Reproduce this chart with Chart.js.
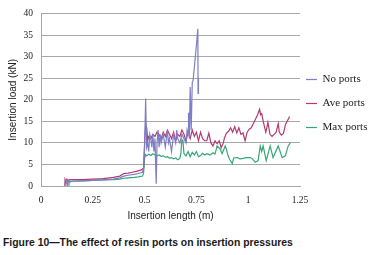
<!DOCTYPE html>
<html>
<head>
<meta charset="utf-8">
<script src="https://cdn.jsdelivr.net/npm/chart.js@4/dist/chart.umd.min.js"></script>
<style>
  body { margin: 0; background: #fff; width: 369px; height: 255px; overflow: hidden; position: relative; }
  #wrap { position: absolute; left: 0; top: 0; width: 369px; height: 222px; }
  #caption { position: absolute; left: 3px; top: 237px; font: bold 10.4px "Liberation Sans", Arial, sans-serif; color: #1a1a1a; white-space: nowrap; }
</style>
</head>
<body>
<div id="wrap"><canvas id="insertionChart"></canvas></div>
<div id="caption">Figure 10—The effect of resin ports on insertion pressures</div>
<script>
var seriesNames = ["No ports", "Ave ports", "Max ports"];
var xTicks = [0, 0.25, 0.5, 0.75, 1, 1.25];

var noPortsX = [0.12, 0.121, 0.127, 0.128, 0.133, 0.14, 0.2, 0.25, 0.3, 0.35, 0.38, 0.40, 0.42, 0.45, 0.47, 0.49, 0.495, 0.50, 0.505, 0.51, 0.515, 0.52, 0.525, 0.53, 0.535, 0.54, 0.545, 0.55, 0.556, 0.56, 0.565, 0.57, 0.575, 0.58, 0.59, 0.60, 0.61, 0.615, 0.62, 0.63, 0.64, 0.65, 0.655, 0.66, 0.67, 0.68, 0.69, 0.70, 0.705, 0.71, 0.712, 0.716, 0.72, 0.725, 0.73, 0.734, 0.745, 0.757, 0.758, 0.76];
var noPortsY = [0, 1.3, 1.3, 0.3, 1.2, 1.1, 1.2, 1.3, 1.4, 1.6, 1.9, 2.3, 2.5, 2.7, 2.9, 3.2, 4, 9, 20.3, 9, 10, 8, 12, 11, 9, 12, 8, 11, 0.5, 10, 13, 9, 12, 10, 12, 9, 13, 10, 11, 8, 12, 10, 13, 11, 10, 12, 11, 10, 13, 12, 17, 11, 23, 13, 24, 24.5, 30, 36.5, 21.5, 25];

var avePortsX = [0.115, 0.116, 0.12, 0.125, 0.13, 0.14, 0.2, 0.25, 0.3, 0.35, 0.38, 0.40, 0.42, 0.44, 0.46, 0.48, 0.49, 0.495, 0.50, 0.505, 0.51, 0.515, 0.52, 0.53, 0.54, 0.55, 0.56, 0.57, 0.58, 0.59, 0.60, 0.61, 0.62, 0.63, 0.64, 0.65, 0.66, 0.67, 0.68, 0.69, 0.70, 0.71, 0.72, 0.73, 0.74, 0.75, 0.76, 0.77, 0.78, 0.79, 0.80, 0.81, 0.82, 0.83, 0.84, 0.85, 0.86, 0.87, 0.88, 0.885, 0.895, 0.905, 0.915, 0.925, 0.935, 0.945, 0.955, 0.965, 0.975, 0.985, 0.995, 1.005, 1.015, 1.025, 1.035, 1.045, 1.055, 1.06, 1.065, 1.075, 1.085, 1.09, 1.095, 1.1, 1.105, 1.115, 1.125, 1.135, 1.145, 1.15, 1.16, 1.17, 1.18, 1.19, 1.2];
var avePortsY = [0, 1.5, 1.0, 1.6, 1.3, 1.5, 1.5, 1.6, 1.7, 2.0, 2.3, 2.9, 3.0, 3.2, 3.4, 3.7, 3.9, 4.2, 10, 14.3, 13.5, 10.5, 11.5, 11, 12, 11.5, 12.5, 12, 11, 12.5, 11.5, 13, 12, 11, 12.5, 10.5, 12, 11.5, 13, 12, 10.5, 12.5, 11, 13, 11.5, 12.5, 10.5, 12.5, 11, 10.5, 10.5, 12.3, 10, 9.3, 10.5, 9.8, 10.5, 8.9, 10, 11.1, 12.3, 12.7, 13.5, 12.5, 13.8, 12.3, 13.5, 12, 12.3, 10.5, 12.5, 13.2, 13.5, 14.5, 15.5, 16.5, 17.8, 16.5, 16.8, 14.5, 12.5, 13.5, 14.8, 13.5, 12, 11.5, 12, 12.5, 14.5, 12.5, 11.8, 12.2, 14.3, 15.2, 16.1];

var maxPortsX = [0.135, 0.136, 0.14, 0.15, 0.2, 0.25, 0.3, 0.35, 0.38, 0.40, 0.42, 0.45, 0.47, 0.49, 0.495, 0.50, 0.505, 0.51, 0.52, 0.53, 0.54, 0.55, 0.56, 0.57, 0.58, 0.59, 0.60, 0.61, 0.62, 0.63, 0.64, 0.65, 0.66, 0.67, 0.675, 0.68, 0.685, 0.69, 0.70, 0.71, 0.72, 0.73, 0.74, 0.75, 0.76, 0.768, 0.78, 0.79, 0.802, 0.815, 0.831, 0.84, 0.85, 0.865, 0.874, 0.889, 0.895, 0.903, 0.91, 0.923, 0.93, 0.947, 0.96, 0.976, 0.99, 1.01, 1.02, 1.034, 1.048, 1.058, 1.065, 1.072, 1.087, 1.106, 1.12, 1.145, 1.164, 1.179, 1.193, 1.203];
var maxPortsY = [0, 1.2, 0.9, 1.1, 1.2, 1.3, 1.4, 1.5, 1.6, 1.8, 1.9, 2.0, 2.1, 2.3, 3, 6.5, 7.3, 7.0, 7.4, 7.1, 7.5, 7.2, 7.0, 7.2, 6.9, 7.0, 6.7, 6.8, 6.5, 6.6, 6.3, 6.5, 6.1, 6.4, 7.5, 10.8, 10.5, 7.5, 7.0, 8.0, 6.8, 7.8, 7.2, 8.0, 6.8, 7, 7.6, 7.2, 7.5, 7.2, 7.7, 7.4, 9.3, 8.6, 7.5, 9.3, 8.5, 7, 6.2, 5.2, 6.5, 6.6, 6.3, 6.4, 6.6, 6.6, 6.3, 5.5, 5.9, 9.3, 8.0, 9.3, 5.9, 9.3, 6.6, 9.3, 6.6, 7, 9.3, 10];

function toPoints(xs, ys) {
  return xs.map(function (x, i) { return { x: x, y: ys[i] }; });
}

var colors = ["#7e7ec4", "#b23a72", "#33a878"];
var gridColor = "#a8a8a8";
var serif = "'Liberation Serif', 'Times New Roman', serif";
var sans = "'Liberation Sans', Arial, sans-serif";

// move the legend closer to the plot and up a bit, like the original
var legendNudge = {
  id: "legendNudge",
  afterLayout: function (chart) {
    var l = chart.legend;
    l.left -= 7;
    l.top -= 9; l.bottom -= 9;
  }
};

new Chart("insertionChart", {
  type: "scatter",
  data: {
    datasets: [
      { label: seriesNames[0], data: toPoints(noPortsX, noPortsY) },
      { label: seriesNames[1], data: toPoints(avePortsX, avePortsY) },
      { label: seriesNames[2], data: toPoints(maxPortsX, maxPortsY) }
    ].map(function (d, i) {
      d.showLine = true;
      d.borderColor = colors[i];
      d.backgroundColor = colors[i];
      d.borderWidth = 1.2;
      d.pointRadius = 0;
      d.tension = 0;
      return d;
    })
  },
  plugins: [legendNudge],
  options: {
    responsive: true,
    maintainAspectRatio: false,
    animation: false,
    layout: { padding: { top: 3, right: 2, left: 0, bottom: 0 } },
    plugins: {
      legend: {
        position: "right",
        maxWidth: 67,
        labels: {
          boxWidth: 11,
          boxHeight: 1.2,
          padding: 13,
          color: "#222",
          font: { family: serif, size: 11 },
          generateLabels: function (chart) {
            var items = Chart.defaults.plugins.legend.labels.generateLabels(chart);
            items.forEach(function (it) { it.lineWidth = 0; });
            return items;
          }
        }
      },
      tooltip: { enabled: false }
    },
    scales: {
      x: {
        type: "linear",
        min: 0,
        max: 1.25,
        afterBuildTicks: function (axis) {
          axis.ticks = xTicks.map(function (v) { return { value: v }; });
        },
        afterFit: function (axis) { axis.height = 36; },
        grid: { display: false, drawTicks: false },
        border: { color: gridColor },
        ticks: {
          padding: 9,
          color: "#222",
          font: { family: serif, size: 9.5 },
          callback: function (v) { return String(v); }
        },
        title: {
          display: true,
          text: "Insertion length (m)",
          color: "#222",
          padding: { top: 3, bottom: 0 },
          font: { family: sans, size: 10 }
        }
      },
      y: {
        min: 0,
        max: 40,
        afterFit: function (axis) { axis.width = 41; },
        grid: { color: gridColor, drawTicks: false },
        border: { color: gridColor },
        ticks: {
          stepSize: 5,
          padding: 8,
          color: "#222",
          font: { family: serif, size: 9.5 }
        },
        title: {
          display: true,
          text: "Insertion load (kN)",
          color: "#222",
          padding: { top: 7, bottom: 0 },
          font: { family: sans, size: 10 }
        }
      }
    }
  }
});
</script>
</body>
</html>
